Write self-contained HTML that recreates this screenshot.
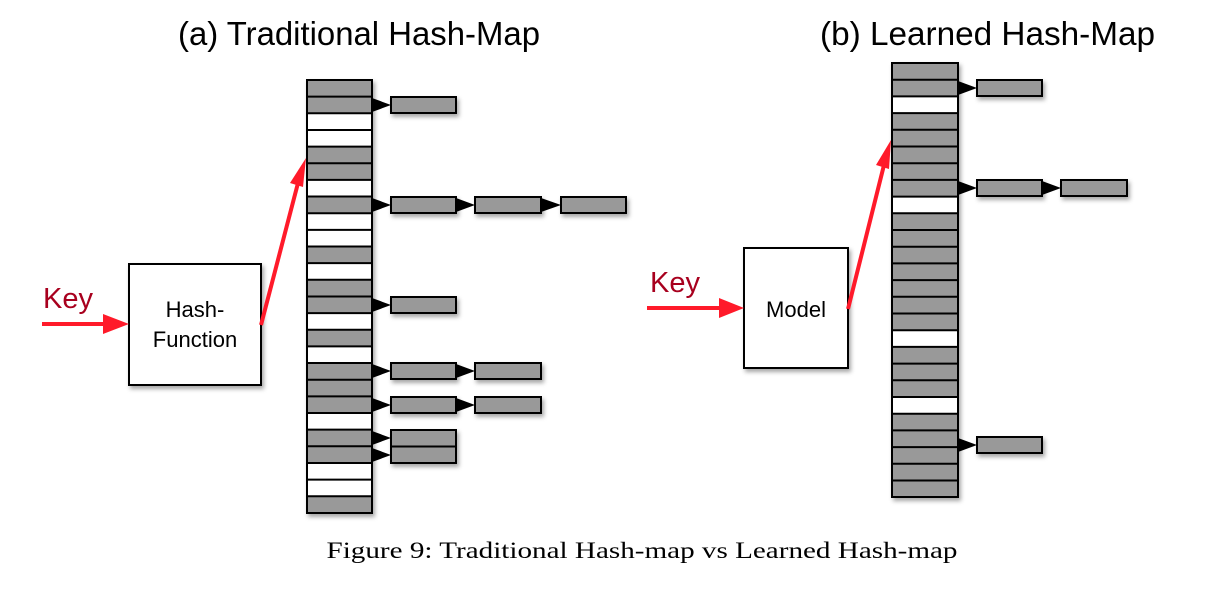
<!DOCTYPE html>
<html><head><meta charset="utf-8"><style>
html,body{margin:0;padding:0;background:#fff;}
svg{display:block;}
</style></head><body>
<svg width="1224" height="590" viewBox="0 0 1224 590" xmlns="http://www.w3.org/2000/svg">
<defs>
<filter id="sh" x="-20%" y="-20%" width="150%" height="150%"><feDropShadow dx="2" dy="3" stdDeviation="2" flood-color="#000" flood-opacity="0.35"/></filter>
</defs>
<g font-family="Liberation Sans, sans-serif">
<text x="178" y="45" font-size="33" textLength="362" lengthAdjust="spacingAndGlyphs">(a) Traditional Hash-Map</text>
<text x="820" y="45" font-size="33" textLength="335" lengthAdjust="spacingAndGlyphs">(b) Learned Hash-Map</text>
<text x="43" y="308" font-size="29" fill="#a8001e">Key</text>
<text x="650" y="292" font-size="29" fill="#a8001e">Key</text>
</g>

<!-- Hash function box -->
<rect x="129" y="264" width="132" height="121" fill="#fff" stroke="#000" stroke-width="2" filter="url(#sh)"/>
<text x="195" y="317" font-family="Liberation Sans, sans-serif" font-size="22" text-anchor="middle">Hash-</text>
<text x="195" y="347" font-family="Liberation Sans, sans-serif" font-size="22" text-anchor="middle">Function</text>
<!-- Model box -->
<rect x="744" y="248" width="104" height="120" fill="#fff" stroke="#000" stroke-width="2" filter="url(#sh)"/>
<text x="796" y="317" font-family="Liberation Sans, sans-serif" font-size="22" text-anchor="middle">Model</text>

<!-- red arrows -->
<g stroke="#ff1a2a" stroke-width="4" fill="#ff1a2a">
<line x1="42" y1="324" x2="105" y2="324"/>
<line x1="647" y1="308" x2="720" y2="308"/>
<line x1="261" y1="325" x2="298" y2="183"/>
<line x1="848" y1="309" x2="884" y2="165"/>
</g>
<g fill="#ff1a2a">
<polygon points="103,314 129,324 103,334"/>
<polygon points="719,298 744,308 719,318"/>
<polygon points="306,158 303,187 290,183"/>
<polygon points="891,140 889,169 876,165"/>
</g>

<!-- left array -->
<g filter="url(#sh)"><rect x="307" y="80" width="65" height="433" fill="#999" stroke="#000" stroke-width="2"/></g>
<g fill="#fff">
<rect x="308" y="113.3" width="63" height="33.3"/>
<rect x="308" y="179.9" width="63" height="16.65"/>
<rect x="308" y="213.2" width="63" height="33.3"/>
<rect x="308" y="263.15" width="63" height="16.65"/>
<rect x="308" y="313.1" width="63" height="16.65"/>
<rect x="308" y="346.4" width="63" height="16.65"/>
<rect x="308" y="413" width="63" height="16.65"/>
<rect x="308" y="462.95" width="63" height="33.3"/>
</g>
<g stroke="#000" stroke-width="2">
<line x1="307" x2="372" y1="96.65" y2="96.65"/><line x1="307" x2="372" y1="113.3" y2="113.3"/><line x1="307" x2="372" y1="129.95" y2="129.95"/><line x1="307" x2="372" y1="146.6" y2="146.6"/><line x1="307" x2="372" y1="163.25" y2="163.25"/><line x1="307" x2="372" y1="179.9" y2="179.9"/><line x1="307" x2="372" y1="196.55" y2="196.55"/><line x1="307" x2="372" y1="213.2" y2="213.2"/><line x1="307" x2="372" y1="229.85" y2="229.85"/><line x1="307" x2="372" y1="246.5" y2="246.5"/><line x1="307" x2="372" y1="263.15" y2="263.15"/><line x1="307" x2="372" y1="279.8" y2="279.8"/><line x1="307" x2="372" y1="296.45" y2="296.45"/><line x1="307" x2="372" y1="313.1" y2="313.1"/><line x1="307" x2="372" y1="329.75" y2="329.75"/><line x1="307" x2="372" y1="346.4" y2="346.4"/><line x1="307" x2="372" y1="363.05" y2="363.05"/><line x1="307" x2="372" y1="379.7" y2="379.7"/><line x1="307" x2="372" y1="396.35" y2="396.35"/><line x1="307" x2="372" y1="413" y2="413"/><line x1="307" x2="372" y1="429.65" y2="429.65"/><line x1="307" x2="372" y1="446.3" y2="446.3"/><line x1="307" x2="372" y1="462.95" y2="462.95"/><line x1="307" x2="372" y1="479.6" y2="479.6"/><line x1="307" x2="372" y1="496.25" y2="496.25"/>
</g>

<!-- right array -->
<g filter="url(#sh)"><rect x="892" y="63" width="66" height="434" fill="#999" stroke="#000" stroke-width="2"/></g>
<g fill="#fff">
<rect x="893" y="96.4" width="64" height="16.7"/>
<rect x="893" y="196.6" width="64" height="16.7"/>
<rect x="893" y="330.2" width="64" height="16.7"/>
<rect x="893" y="397" width="64" height="16.7"/>
</g>
<g stroke="#000" stroke-width="2">
<line x1="892" x2="958" y1="79.7" y2="79.7"/><line x1="892" x2="958" y1="96.4" y2="96.4"/><line x1="892" x2="958" y1="113.1" y2="113.1"/><line x1="892" x2="958" y1="129.8" y2="129.8"/><line x1="892" x2="958" y1="146.5" y2="146.5"/><line x1="892" x2="958" y1="163.2" y2="163.2"/><line x1="892" x2="958" y1="179.9" y2="179.9"/><line x1="892" x2="958" y1="196.6" y2="196.6"/><line x1="892" x2="958" y1="213.3" y2="213.3"/><line x1="892" x2="958" y1="230" y2="230"/><line x1="892" x2="958" y1="246.7" y2="246.7"/><line x1="892" x2="958" y1="263.4" y2="263.4"/><line x1="892" x2="958" y1="280.1" y2="280.1"/><line x1="892" x2="958" y1="296.8" y2="296.8"/><line x1="892" x2="958" y1="313.5" y2="313.5"/><line x1="892" x2="958" y1="330.2" y2="330.2"/><line x1="892" x2="958" y1="346.9" y2="346.9"/><line x1="892" x2="958" y1="363.6" y2="363.6"/><line x1="892" x2="958" y1="380.3" y2="380.3"/><line x1="892" x2="958" y1="397" y2="397"/><line x1="892" x2="958" y1="413.7" y2="413.7"/><line x1="892" x2="958" y1="430.4" y2="430.4"/><line x1="892" x2="958" y1="447.1" y2="447.1"/><line x1="892" x2="958" y1="463.8" y2="463.8"/><line x1="892" x2="958" y1="480.5" y2="480.5"/>
</g>

<!-- chain boxes -->
<g fill="#999" stroke="#000" stroke-width="2" filter="url(#sh)">
<rect x="391" y="97" width="65" height="16"/>
<rect x="391" y="197" width="65" height="16"/><rect x="475" y="197" width="66" height="16"/><rect x="561" y="197" width="65" height="16"/>
<rect x="391" y="297" width="65" height="16"/>
<rect x="391" y="363" width="65" height="16"/><rect x="475" y="363" width="66" height="16"/>
<rect x="391" y="397" width="65" height="16"/><rect x="475" y="397" width="66" height="16"/>
<rect x="391" y="430" width="65" height="16.5"/><rect x="391" y="446.5" width="65" height="16.5"/>
<rect x="977" y="80" width="65" height="16"/>
<rect x="977" y="180" width="65" height="16"/><rect x="1061" y="180" width="66" height="16"/>
<rect x="977" y="437" width="65" height="16"/>
</g>
<!-- arrowheads -->
<g fill="#000">
<polygon points="372,98 391,105 372,112"/>
<polygon points="372,198 391,205 372,212"/><polygon points="456,198 475,205 456,212"/><polygon points="541,198 561,205 541,212"/>
<polygon points="372,298 391,305 372,312"/>
<polygon points="372,364 391,371 372,378"/><polygon points="456,364 475,371 456,378"/>
<polygon points="372,398 391,405 372,412"/><polygon points="456,398 475,405 456,412"/>
<polygon points="372,431 391,438 372,445"/>
<polygon points="372,448 391,455 372,462"/>
<polygon points="958,81 977,88 958,95"/>
<polygon points="958,181 977,188 958,195"/><polygon points="1042,181 1061,188 1042,195"/>
<polygon points="958,438 977,445 958,452"/>
</g>

<text x="642" y="558" font-family="Liberation Serif, serif" font-size="23.5" text-anchor="middle" textLength="631" lengthAdjust="spacingAndGlyphs">Figure 9: Traditional Hash-map vs Learned Hash-map</text>
</svg>
</body></html>
